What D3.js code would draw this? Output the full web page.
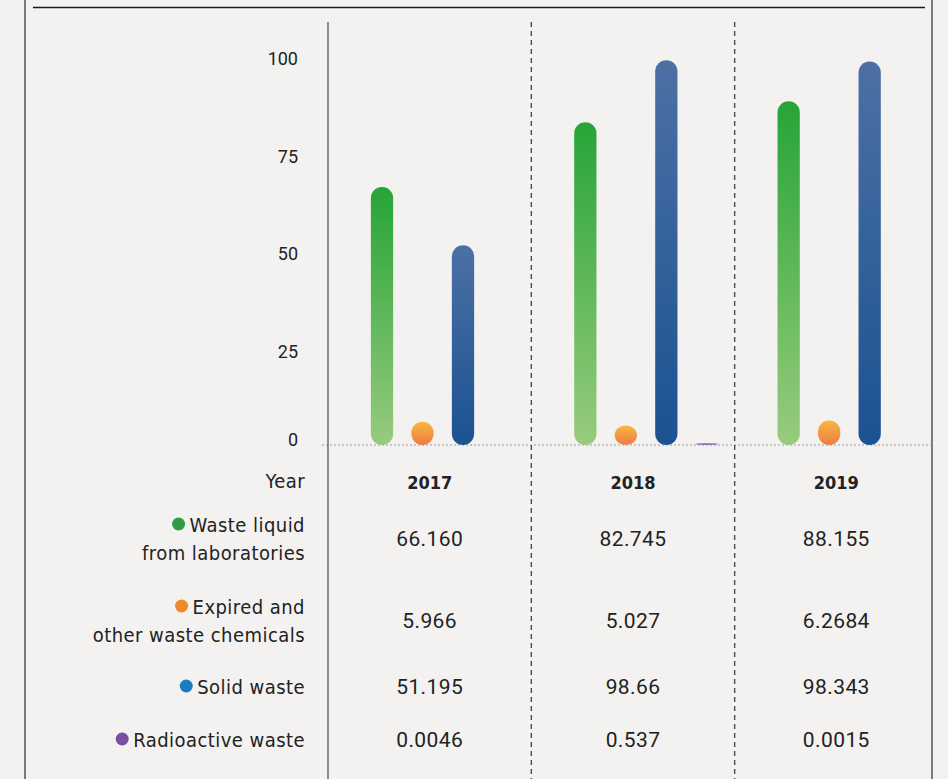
<!DOCTYPE html>
<html>
<head>
<meta charset="utf-8">
<script src="https://cdn.jsdelivr.net/npm/d3@7"></script>
<style>
  html, body { margin: 0; padding: 0; background: #f3f2f0; }
  svg { display: block; }
  .cond { font-family: "Liberation Sans Narrow", "DejaVu Sans Condensed", "Roboto", sans-serif; }
  .num { font-family: "Roboto", "Inter", sans-serif; }
</style>
</head>
<body>
<svg id="chart" width="948" height="779"></svg>
<script>
// Years shown along the category axis
const years = ["2017", "2018", "2019"];

// Series keys, legend lines and dot colours
const seriesKeys = ["liquid", "expired", "solid", "radioactive"];
const seriesLabels = [
  ["Waste liquid", "from laboratories"],
  ["Expired and", "other waste chemicals"],
  ["Solid waste"],
  ["Radioactive waste"]
];
const legendColors = ["#2f9a48", "#f08a26", "#1a7bc2", "#7a4ea1"];

// Values per year, kept as printed in the table
const wasteLiquid = ["66.160", "82.745", "88.155"];
const expiredChemicals = ["5.966", "5.027", "6.2684"];
const solidWaste = ["51.195", "98.66", "98.343"];
const radioactiveWaste = ["0.0046", "0.537", "0.0015"];

// Y-axis ticks
const yTicks = [0, 25, 50, 75, 100];

const seriesText = [wasteLiquid, expiredChemicals, solidWaste, radioactiveWaste];

const W = 948, H = 779;
const svg = d3.select("#chart");

// Gradient fills for the bars (top colour -> bottom colour)
const gradients = [
  ["grad-liquid", "#27a438", "#98cb7e"],
  ["grad-expired", "#f8b840", "#ee7a46"],
  ["grad-solid", "#4c70a4", "#1b5292"],
  ["grad-radioactive", "#a27fca", "#9477bd"]
];
const defs = svg.append("defs");
gradients.forEach(([id, top, bottom]) => {
  const g = defs.append("linearGradient").attr("id", id)
    .attr("x1", 0).attr("y1", 0).attr("x2", 0).attr("y2", 1);
  g.append("stop").attr("offset", "0%").attr("stop-color", top);
  g.append("stop").attr("offset", "100%").attr("stop-color", bottom);
});

// Frame
svg.append("rect").attr("width", W).attr("height", H).attr("fill", "#f3f2f0");
svg.append("line").attr("x1", 25).attr("x2", 25).attr("y1", 0).attr("y2", H)
  .attr("stroke", "#7b7b7b").attr("stroke-width", 2);
svg.append("line").attr("x1", 932).attr("x2", 932).attr("y1", 0).attr("y2", H)
  .attr("stroke", "#7b7b7b").attr("stroke-width", 2);
svg.append("line").attr("x1", 33).attr("x2", 925).attr("y1", 7.5).attr("y2", 7.5)
  .attr("stroke", "#1a1a1a").attr("stroke-width", 1.6);

// Scales
const y = d3.scaleLinear().domain([0, 100]).range([445, 55]);
const x = d3.scaleBand().domain(years).range([328, 938]);
const inner = d3.scaleBand().domain(seriesKeys)
  .range([33.75, 195.75]).paddingInner(0.45).paddingOuter(0.225);

const plotTop = 22;

// Dotted zero line
svg.append("line")
  .attr("x1", 322).attr("x2", 932).attr("y1", y(0)).attr("y2", y(0))
  .attr("stroke", "#9a9a9a").attr("stroke-width", 1.2).attr("stroke-dasharray", "2,2");

// Dashed dividers between years
svg.selectAll("line.divider").data(years.slice(1)).join("line")
  .attr("class", "divider")
  .attr("x1", d => x(d)).attr("x2", d => x(d))
  .attr("y1", plotTop).attr("y2", H)
  .attr("stroke", "#4a4a4a").attr("stroke-width", 1.4).attr("stroke-dasharray", "5,4");

// Y axis
const yAxis = svg.append("g").attr("transform", "translate(328,0)")
  .call(d3.axisLeft(y).tickValues(yTicks).tickSize(0).tickPadding(30));
yAxis.select(".domain").remove();
yAxis.selectAll("text")
  .attr("class", "num")
  .attr("font-size", 18).attr("fill", "#222")
  .attr("transform", d => d === 0 ? "translate(0,-5)" : "translate(0,4)");
svg.append("line").attr("x1", 328).attr("x2", 328).attr("y1", plotTop).attr("y2", H)
  .attr("stroke", "#555").attr("stroke-width", 1.3);

// Bars
const bw = inner.bandwidth();
const barData = [];
years.forEach((yr, i) => {
  seriesKeys.forEach((k, s) => {
    barData.push({ year: yr, key: k, s, value: +seriesText[s][i] });
  });
});
svg.append("g").selectAll("rect").data(barData).join("rect")
  .attr("x", d => x(d.year) + inner(d.key))
  .attr("y", d => y(d.value))
  .attr("width", bw)
  .attr("height", d => y(0) - y(d.value))
  .attr("rx", bw / 2).attr("ry", bw / 2)
  .attr("fill", d => `url(#${gradients[d.s][0]})`);

// Table header row
svg.append("text").attr("class", "cond")
  .attr("x", 305).attr("y", 481).attr("text-anchor", "end")
  .attr("dominant-baseline", "central")
  .attr("font-size", 20).attr("letter-spacing", 0.4).attr("fill", "#222").text("Year");
svg.selectAll("text.year").data(years).join("text")
  .attr("class", "year cond")
  .attr("x", d => x(d) + x.bandwidth() / 2).attr("y", 482)
  .attr("text-anchor", "middle").attr("dominant-baseline", "central")
  .attr("font-size", 18).attr("font-weight", "bold").attr("fill", "#222")
  .text(d => d);

// Table body rows: legend label with dot, then one value per year
const rowCenters = [539, 621, 687, 740];
const lineGap = 28;
seriesLabels.forEach((lines, s) => {
  const cy = rowCenters[s];
  const firstY = cy - (lines.length - 1) * lineGap / 2;
  const t = svg.append("text").attr("class", "cond")
    .attr("text-anchor", "end").attr("font-size", 20)
    .attr("letter-spacing", 0.45).attr("fill", "#222");
  lines.forEach((ln, j) => {
    t.append("tspan").attr("x", 305).attr("y", firstY + j * lineGap)
      .attr("dominant-baseline", "central").text(ln);
  });
  // dot sits just left of the first line
  const firstWidth = t.select("tspan").node().getComputedTextLength();
  svg.append("circle")
    .attr("cx", 305 - firstWidth - 11).attr("cy", firstY - 1)
    .attr("r", 6.5).attr("fill", legendColors[s]);

  svg.selectAll(null).data(seriesText[s]).join("text")
    .attr("class", "num")
    .attr("x", (d, i) => x(years[i]) + x.bandwidth() / 2)
    .attr("y", cy)
    .attr("text-anchor", "middle").attr("dominant-baseline", "central")
    .attr("font-size", 21).attr("letter-spacing", 0.4).attr("fill", "#222")
    .text(d => d);
});
</script>
</body>
</html>
